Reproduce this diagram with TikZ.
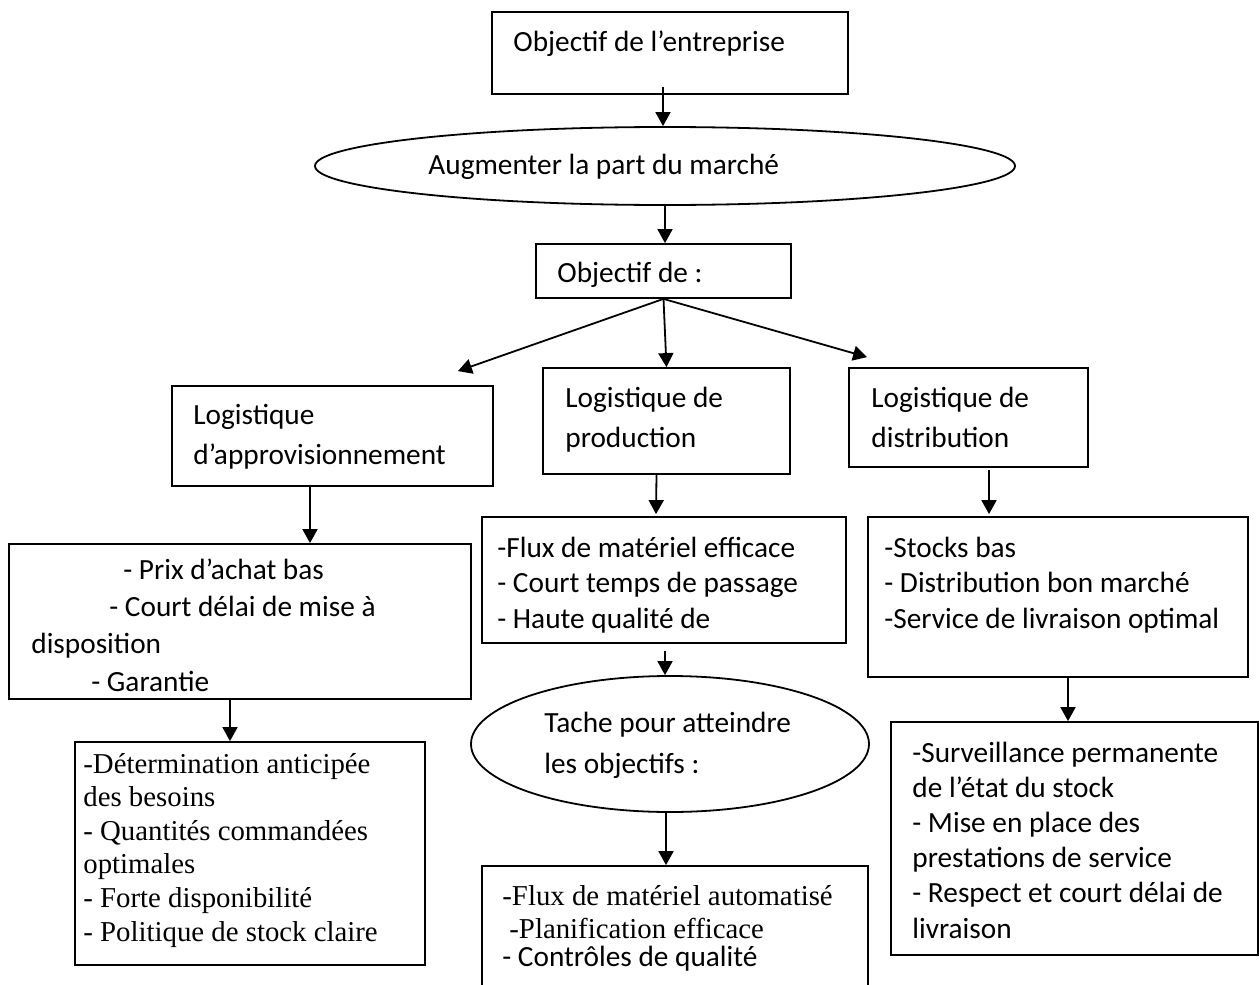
\documentclass[tikz,border=0pt]{standalone}
\usepackage{fontspec}
\setmainfont{Carlito}
\newfontfamily\tnr{Liberation Serif}
\usepackage{tikz}
\usetikzlibrary{shapes.geometric, arrows.meta, calc}
\tikzset{
  block/.style={
    rectangle, draw=black, line width=0.9pt, inner sep=0pt,
  },
  oval/.style={
    ellipse, draw=black, line width=0.9pt, inner sep=0pt,
  },
  txt/.style={
    anchor=base west, align=left, inner sep=0pt,
    font=\fontsize{14.65pt}{#1}\selectfont,
  },
  txt/.default=18.5pt,
  txtserif/.style={
    anchor=base west, align=left, inner sep=0pt,
    font=\tnr\fontsize{14.4pt}{#1}\selectfont,
  },
  txtserif/.default=16.8pt,
  arrow/.style={-{Triangle[length=7pt, width=7.5pt]}, line width=0.9pt, color=black},
}

\begin{document}
\begin{tikzpicture}[x=0.5pt, y=-0.5pt]
  \clip (0,0) rectangle (1259,985);

  % shapes
  \node[block, minimum width=178pt, minimum height=41pt] (obj) at (670,53) {};
  \node[oval, minimum width=350pt, minimum height=39pt] (marche) at (665,166) {};
  \node[block, minimum width=127.5pt, minimum height=27pt] (objde) at (663.5,271) {};
  \node[block, minimum width=160.5pt, minimum height=50pt] (approv) at (332.5,436) {};
  \node[block, minimum width=123.5pt, minimum height=53pt] (prod) at (666.5,421) {};
  \node[block, minimum width=119.5pt, minimum height=49.5pt] (distr) at (968.5,417.5) {};
  \node[block, minimum width=231pt, minimum height=77.5pt] (prix) at (240,621.5) {};
  \node[block, minimum width=182pt, minimum height=63pt] (flux) at (664,580) {};
  \node[block, minimum width=190pt, minimum height=80pt] (stocks) at (1058,597) {};
  \node[oval, minimum width=199pt, minimum height=68pt] (tache) at (670,744) {};
  \node[block, minimum width=175pt, minimum height=111.5pt] (determ) at (250,853.5) {};
  \node[block, minimum width=193pt, minimum height=69.5pt] (autom) at (675,935.5) {};
  \node[block, minimum width=183.5pt, minimum height=116.5pt] (surv) at (1074.5,838.5) {};

  % texts (anchored on the baseline of the last line)
  \node[txt] (objT) at (513,51) {Objectif de l’entreprise};
  \node[txt] (marcheT) at (428,174) {Augmenter la part du marché};
  \node[txt] (objdeT) at (557,282) {Objectif de :};
  \node[txt=20pt] (approvT) at (193,464) {Logistique\\ d’approvisionnement};
  \node[txt=20pt] (prodT) at (565,447) {Logistique de\\ production};
  \node[txt=20pt] (distrT) at (871,447) {Logistique de\\ distribution};
  \node[txt=18.65pt] (prixT) at (31,691) {\hspace*{46pt}- Prix d’achat bas\\
    \hspace*{39pt}- Court délai de mise à\\ disposition\\ \hspace*{30pt}- Garantie};
  \node[txt=17.75pt] (fluxT) at (497,628) {-Flux de matériel efficace\\
    - Court temps de passage\\ - Haute qualité de};
  \node[txt=17.75pt] (stocksT) at (884,628) {-Stocks bas\\
    - Distribution bon marché\\ -Service de livraison optimal};
  \node[txt=20.5pt] (tacheT) at (544,773) {Tache pour atteindre\\ les objectifs :};
  \node[txtserif] (determT) at (83,941) {-Détermination anticipée\\ des besoins\\
    - Quantités commandées\\ optimales\\ - Forte disponibilité\\
    - Politique de stock claire};
  \node[txtserif=16.5pt] (automT) at (502,966) {-Flux de matériel automatisé\\
    \hspace*{3.5pt}-Planification efficace\\[-2.5pt]
    {\rmfamily\fontsize{14.65pt}{18pt}\selectfont - Contrôles de qualité}};
  \node[txt=17.6pt] (survT) at (912,938) {-Surveillance permanente\\
    de l’état du stock\\ - Mise en place des\\ prestations de service\\
    - Respect et court délai de\\ livraison};

  % connectors
  \draw[arrow] ($(obj.south)+(-7,-8)$) -- ($(marche.north)+(-2,0)$);
  \draw[arrow] (marche.south) -- (marche.south |- objde.north);
  \draw[arrow] (objde.south) -- ($(approv.north east)+(-36,-14)$);
  \draw[arrow] (objde.south) -- (prod.north);
  \draw[arrow] (objde.south) -- ($(distr.north west)+(19,-10)$);
  \draw[arrow] ($(approv.south)+(-22.5,0)$) -- ($(prix.north)+(70,0)$);
  \draw[arrow] ($(prod.south)+(-10,0)$) -- ($(flux.north)+(-8,-2)$);
  \draw[arrow] ($(distr.south)+(20.5,2)$) -- ($(stocks.north)+(-69,-2)$);
  \draw[arrow] ($(flux.south)+(1,7)$) -- ($(tache.north)+(-5,0)$);
  \draw[arrow] ($(tache.south)+(-4,0)$) -- ($(autom.north)+(-9,0)$);
  \draw[arrow] ($(prix.south)+(-10,0)$) -- ($(determ.north)+(-20,0)$);
  \draw[arrow] ($(stocks.south)+(10,0)$) -- ($(surv.north)+(-6.5,0)$);

\end{tikzpicture}
\end{document}
